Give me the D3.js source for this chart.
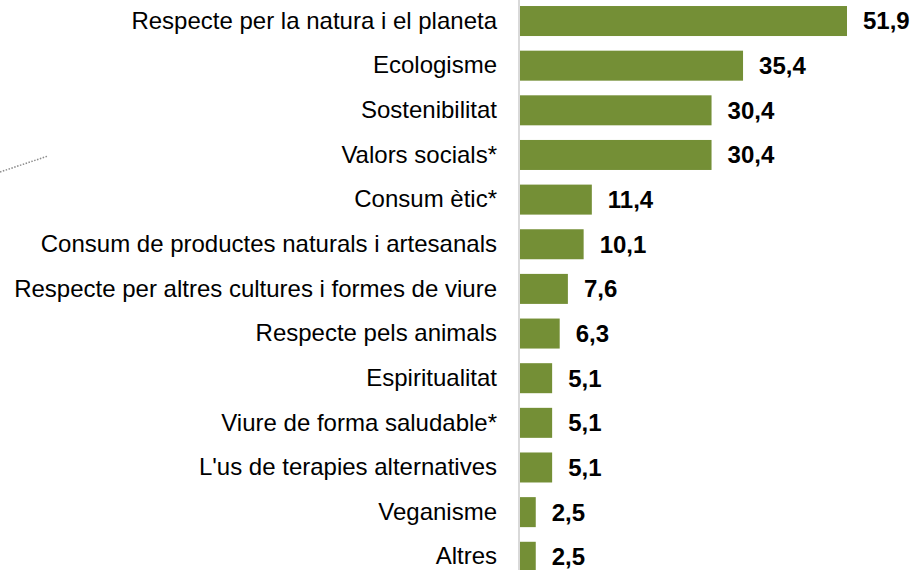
<!DOCTYPE html>
<html>
<head>
<meta charset="utf-8">
<script src="https://cdn.jsdelivr.net/npm/d3@7"></script>
<style>
  body { margin: 0; background: #fff; }
  svg { display: block; }
</style>
</head>
<body>
<script>
const categories = [
  "Respecte per la natura i el planeta",
  "Ecologisme",
  "Sostenibilitat",
  "Valors socials*",
  "Consum ètic*",
  "Consum de productes naturals i artesanals",
  "Respecte per altres cultures i formes de viure",
  "Respecte pels animals",
  "Espiritualitat",
  "Viure de forma saludable*",
  "L'us de terapies alternatives",
  "Veganisme",
  "Altres"
];
const values = [51.9, 35.4, 30.4, 30.4, 11.4, 10.1, 7.6, 6.3, 5.1, 5.1, 5.1, 2.5, 2.5];

const width = 912, height = 570;
const x0 = 520;

const svg = d3.select("body")
  .append("svg")
  .attr("width", width)
  .attr("height", height);

const data = categories.map((c, i) => ({ label: c, value: values[i] }));

const xScale = d3.scaleLinear()
  .domain([0, 51.9])
  .range([x0, 847]);

const yScale = d3.scaleBand()
  .domain(categories)
  .range([-1.3, 579.1])
  .paddingInner(0.328)
  .paddingOuter(0.164);

// decorative dotted line at left
svg.append("line")
  .attr("x1", 0).attr("y1", 172)
  .attr("x2", 48).attr("y2", 156)
  .attr("stroke", "#8c8c8c")
  .attr("stroke-width", 1.5)
  .attr("stroke-dasharray", "1.5,1.5");

svg.selectAll("rect.bar")
  .data(data)
  .enter()
  .append("rect")
  .attr("class", "bar")
  .attr("x", xScale(0))
  .attr("y", (d) => yScale(d.label))
  .attr("width", (d) => xScale(d.value) - xScale(0))
  .attr("height", yScale.bandwidth())
  .attr("fill", "#748F36");

// vertical axis
svg.append("g")
  .attr("transform", "translate(" + (x0 - 1) + ",0)")
  .call(d3.axisLeft(yScale).tickSize(0).tickPadding(22))
  .call((g) => g.select(".domain").attr("stroke", "#d9d9d9").attr("stroke-width", 2)
    .attr("d", "M0,0V" + height))
  .call((g) => g.selectAll("text")
    .attr("font-family", "'Liberation Sans', Arial, sans-serif")
    .attr("font-size", 24)
    .attr("fill", "#000"));

svg.selectAll("text.val")
  .data(data)
  .enter()
  .append("text")
  .attr("class", "val")
  .attr("x", (d) => xScale(d.value) + 16)
  .attr("y", (d) => yScale(d.label) + yScale.bandwidth() / 2)
  .attr("dy", "0.35em")
  .attr("font-family", "'Liberation Sans', Arial, sans-serif")
  .attr("font-weight", "bold")
  .attr("font-size", 24)
  .attr("fill", "#000")
  .text((d) => d3.format(".1f")(d.value).replace(".", ","));
</script>
</body>
</html>
